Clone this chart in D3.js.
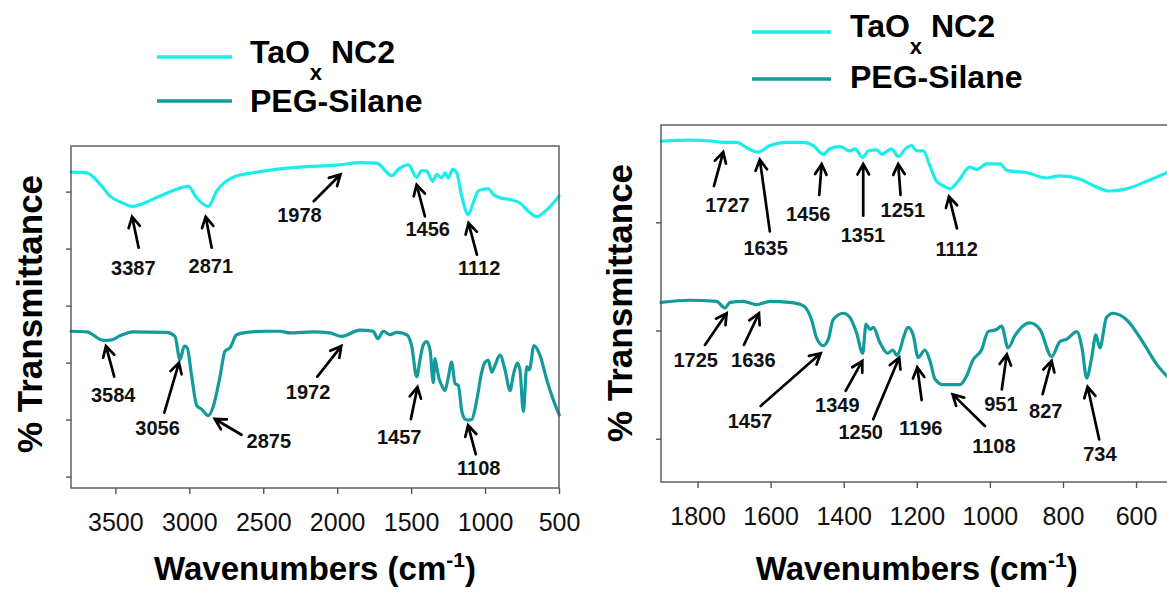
<!DOCTYPE html>
<html>
<head>
<meta charset="utf-8">
<script src="https://cdn.jsdelivr.net/npm/d3@7"></script>
<style>
  body { margin: 0; background: #fff; }
  svg { display: block; font-family: "Liberation Sans", Arial, Helvetica, sans-serif; }
</style>
</head>
<body>
<svg id="chart" width="1167" height="594"></svg>
<script>
// ---- FTIR spectra: [wavenumber (cm^-1), transmittance (a.u., offset)] ----

// Full range 3800-500 cm^-1
const nc2Full = [
  [3800,5.34],[3694,5.33],[3600,5.12],[3536,4.92],[3450,4.80],[3390,4.74],[3200,4.92],[3007,5.09],
  [2950,4.89],[2872,4.74],[2815,5.01],[2705,5.25],[2569,5.33],[2387,5.40],[2251,5.43],
  [1981,5.47],[1846,5.51],[1733,5.50],[1631,5.28],[1587,5.39],[1519,5.47],[1462,5.25],
  [1429,5.37],[1395,5.36],[1354,5.18],[1327,5.30],[1293,5.24],[1271,5.33],[1249,5.24],
  [1219,5.39],[1192,5.33],[1158,4.92],[1113,4.60],[1080,4.80],[1046,5.01],[1012,5.04],
  [978,5.05],[944,4.95],[899,4.89],[831,4.86],[764,4.80],[696,4.63],[651,4.56],[583,4.68],[500,4.92]
];
const pegFull = [
  [3800,2.55],[3694,2.54],[3582,2.39],[3525,2.40],[3469,2.47],[3379,2.54],[3153,2.53],[3097,2.46],
  [3063,2.05],[3034,2.29],[3014,2.26],[2984,1.76],[2950,1.25],[2916,1.18],[2872,1.07],
  [2838,1.23],[2792,1.76],[2759,2.20],[2725,2.26],[2680,2.49],[2612,2.53],[2477,2.55],
  [2387,2.55],[2319,2.52],[2162,2.54],[2049,2.52],[1970,2.46],[1846,2.57],[1756,2.55],
  [1726,2.42],[1688,2.55],[1643,2.49],[1598,2.53],[1530,2.49],[1496,2.29],[1462,1.75],
  [1440,2.05],[1418,2.31],[1395,2.37],[1372,2.22],[1350,1.65],[1339,2.07],[1327,1.92],
  [1310,1.71],[1293,1.60],[1271,1.51],[1249,1.74],[1226,2.01],[1203,1.63],[1181,1.60],
  [1158,1.16],[1136,1.01],[1113,0.99],[1090,1.00],[1057,1.33],[1023,1.83],[1000,2.01],
  [978,2.04],[955,1.83],[933,1.95],[899,2.13],[865,1.87],[831,1.51],[809,1.78],[782,1.99],
  [764,1.87],[741,1.14],[718,1.93],[701,1.87],[669,2.30],[629,2.13],[583,1.70],[539,1.35],[498,1.08]
];

// Fingerprint range 1900-500 cm^-1
const nc2Finger = [
  [1900,2.75],[1821,2.76],[1757,2.75],[1730,2.74],[1693,2.74],[1666,2.69],[1634,2.65],[1602,2.71],
  [1556,2.74],[1511,2.74],[1483,2.71],[1456,2.63],[1438,2.68],[1410,2.70],[1383,2.66],[1369,2.68],
  [1348,2.60],[1333,2.66],[1310,2.67],[1296,2.63],[1269,2.68],[1251,2.61],[1228,2.69],[1214,2.71],
  [1200,2.66],[1182,2.66],[1164,2.52],[1146,2.38],[1128,2.34],[1109,2.31],[1087,2.38],[1055,2.51],
  [1036,2.49],[1009,2.54],[972,2.54],[954,2.48],[899,2.46],[845,2.41],[808,2.43],[754,2.40],
  [717,2.34],[672,2.29],[626,2.31],[571,2.38],[516,2.46]
];
const pegFinger = [
  [1900,1.26],[1821,1.28],[1748,1.27],[1725,1.21],[1711,1.26],[1675,1.27],[1638,1.24],[1602,1.27],
  [1548,1.26],[1511,1.23],[1488,1.10],[1474,0.93],[1456,0.86],[1442,0.92],[1429,1.10],[1401,1.16],
  [1383,1.12],[1365,0.98],[1348,0.79],[1339,1.06],[1328,1.01],[1319,1.03],[1301,0.89],[1280,0.79],
  [1265,0.82],[1255,0.77],[1246,0.82],[1237,0.93],[1223,1.03],[1210,0.96],[1196,0.75],[1178,0.82],
  [1164,0.72],[1150,0.55],[1128,0.50],[1082,0.50],[1064,0.58],[1046,0.73],[1023,0.82],[1005,0.99],
  [982,1.01],[968,1.04],[950,0.84],[932,0.95],[891,1.07],[863,1.01],[831,0.76],[808,0.90],
  [790,0.92],[762,0.99],[748,0.84],[735,0.56],[721,0.76],[710,0.96],[699,0.84],[681,1.12],
  [663,1.16],[626,1.10],[581,0.89],[544,0.69],[516,0.58]
];

// Tick values
const fullTicks = [3500, 3000, 2500, 2000, 1500, 1000, 500];
const fingerTicks = [1800, 1600, 1400, 1200, 1000, 800, 600];
const fullYTicks = [0, 1, 2, 3, 4, 5];
const fingerYTicks = [0, 1, 2];

// Assigned bands: label, transmittance level at the arrow tip
const fullBands = [
  ["3387", 4.56], ["2871", 4.56], ["1978", 5.30], ["1456", 5.12], ["1112", 4.45],
  ["3584", 2.29], ["3056", 2.00], ["2875", 1.01], ["1972", 2.29], ["1457", 1.57], ["1108", 0.90]
];
const fingerBands = [
  ["1727", 2.65], ["1635", 2.58], ["1456", 2.54], ["1351", 2.54], ["1251", 2.54], ["1112", 2.24],
  ["1725", 1.16], ["1636", 1.16], ["1457", 0.79], ["1349", 0.72], ["1250", 0.75], ["1196", 0.66],
  ["1108", 0.41], ["951", 0.78], ["827", 0.72], ["734", 0.48]
];

const legendNames = ["TaO", "x", " NC2", "PEG-Silane"];

// ---- layout ----
const colors = { nc2: "#1BEDED", peg: "#149A9A" };

// arrow geometry per band: [tip dx, tail dx, tail dy, label dx, label dy] (px, relative to tip)
const fullArrows = [
  [0, 6.6, 31, 1.3, 58.4], [-2.7, 6, 31, 5.1, 56], [0, -26.7, 26.7, -41, 47], [-1, 8.3, 31.7, 11.1, 51],
  [0, 8.4, 31.7, 10.7, 52.4],
  [3, 8.3, 30.6, 7.3, 56], [-2, -14.7, 50, -21.5, 72.7], [7, 26.7, 15.7, 54, 29],
  [0, -24, 30.6, -33.2, 53.3], [0, -6.6, 32, -18.3, 56.7], [-1, 7.7, 29, 10.7, 50]
];
const fingerArrows = [
  [-1, -9.3, 34, 4.2, 60], [2, 10, 71.7, 5.8, 95], [-1.6, -2.4, 31, -13.4, 56.7], [1.6, 0, 51.7, -0.3, 78.3],
  [0, 2.4, 31, 4.7, 53.3], [0, 8, 32, 7.7, 59.4],
  [1.7, -21.7, 31.7, -30.9, 54], [1.5, -15, 31.7, -5.7, 54], [-2.2, -60, 52.7, -70.7, 74.3],
  [0, -16.7, 30, -25, 51.6], [0.7, -26, 61.7, -38.5, 81.7], [-1, 4.4, 32.7, 3.5, 67.7],
  [2.2, 32.3, 31.7, 41.3, 58.3], [-1, -5, 35, -5.9, 56.7], [-1.5, -9, 33.3, -5.9, 57.6], [0.5, 11.6, 52.7, 12.3, 74.4]
];

const panels = [
  {
    x: d3.scaleLinear().domain([3800, 500]).range([71, 559]),
    y: d3.scaleLinear().domain([-0.2, 5.8]).range([488, 146]),
    series: [[nc2Full, colors.nc2], [pegFull, colors.peg]],
    xTicks: fullTicks, yTicks: fullYTicks,
    bands: fullBands, arrows: fullArrows,
    yTitle: [42, 314],
    legend: { x1: 157, x2: 232, y1: 57, y2: 101, tx: 250, b1: 63, b2: 112 }
  },
  {
    x: d3.scaleLinear().domain([1900, 500]).range([661, 1172.6]),
    y: d3.scaleLinear().domain([-0.4, 2.9]).range([482, 125]),
    series: [[nc2Finger, colors.nc2], [pegFinger, colors.peg]],
    xTicks: fingerTicks, yTicks: fingerYTicks,
    bands: fingerBands, arrows: fingerArrows,
    yTitle: [632, 303],
    legend: { x1: 752, x2: 831, y1: 32, y2: 79, tx: 850, b1: 37, b2: 88 }
  }
];

const svg = d3.select("#chart");

panels.forEach(p => {
  const [x0, x1] = p.x.range();
  const [yb, yt] = p.y.range();
  const g = svg.append("g");

  // spectra
  const line = d3.line()
    .x(d => p.x(d[0]))
    .y(d => p.y(d[1]))
    .curve(d3.curveMonotoneX);
  p.series.forEach(([data, color]) => {
    g.append("path")
      .datum(data)
      .attr("d", line)
      .attr("fill", "none")
      .attr("stroke", color)
      .attr("stroke-width", 3.2)
      .attr("stroke-linejoin", "round")
      .attr("stroke-linecap", "round");
  });

  // frame
  g.append("rect")
    .attr("x", x0).attr("y", yt)
    .attr("width", x1 - x0).attr("height", yb - yt)
    .attr("fill", "none")
    .attr("stroke", "#555")
    .attr("stroke-width", 1.4);

  // axes
  const xa = g.append("g")
    .attr("transform", `translate(0,${yb})`)
    .call(d3.axisBottom(p.x).tickValues(p.xTicks).tickFormat(d3.format("d")).tickSize(6).tickSizeOuter(0));
  xa.select(".domain").remove();
  xa.selectAll(".tick line").attr("stroke", "#555").attr("stroke-width", 1.4);
  xa.selectAll(".tick text")
    .attr("y", 43).attr("dy", null)
    .attr("fill", "#111")
    .style("font-size", "25px")
    .style("font-family", "'Liberation Sans', Arial, sans-serif");

  const ya = g.append("g")
    .attr("transform", `translate(${x0},0)`)
    .call(d3.axisLeft(p.y).tickValues(p.yTicks).tickFormat(() => "").tickSize(5).tickSizeOuter(0));
  ya.select(".domain").remove();
  ya.selectAll(".tick line").attr("stroke", "#555").attr("stroke-width", 1.4);

  // band annotations
  p.bands.forEach(([label, t], i) => {
    const [tdx, ax, ay, lx, ly] = p.arrows[i];
    const tx = p.x(+label) + tdx, ty = p.y(t);
    const sx = tx + ax, sy = ty + ay;
    const ang = Math.atan2(ty - sy, tx - sx);
    const hl = 12, ha = 0.5;
    const h1 = [tx - hl * Math.cos(ang - ha), ty - hl * Math.sin(ang - ha)];
    const h2 = [tx - hl * Math.cos(ang + ha), ty - hl * Math.sin(ang + ha)];
    g.append("path")
      .attr("d", `M${sx},${sy}L${tx},${ty}M${h1[0]},${h1[1]}L${tx},${ty}L${h2[0]},${h2[1]}`)
      .attr("fill", "none")
      .attr("stroke", "#000")
      .attr("stroke-width", 2.7)
      .attr("stroke-linecap", "round")
      .attr("stroke-linejoin", "miter");
    g.append("text")
      .attr("x", tx + lx).attr("y", ty + ly)
      .attr("text-anchor", "middle")
      .attr("font-size", 20)
      .attr("font-weight", "bold")
      .attr("fill", "#111")
      .text(label);
  });

  // axis titles
  const xt = g.append("text")
    .attr("x", (x0 + x1) / 2).attr("y", 580)
    .attr("text-anchor", "middle")
    .attr("font-size", 33).attr("font-weight", "bold").attr("fill", "#000");
  xt.append("tspan").text("Wavenumbers (cm");
  xt.append("tspan").attr("dy", -13).attr("font-size", 21).text("-1");
  xt.append("tspan").attr("dy", 13).text(")");

  g.append("text")
    .attr("transform", `translate(${p.yTitle[0]},${p.yTitle[1]}) rotate(-90)`)
    .attr("text-anchor", "middle")
    .attr("font-size", 35).attr("font-weight", "bold").attr("fill", "#000")
    .text("% Transmittance");

  // legend
  const L = p.legend;
  [[L.y1, colors.nc2], [L.y2, colors.peg]].forEach(([yy, c]) => {
    g.append("line")
      .attr("x1", L.x1).attr("x2", L.x2).attr("y1", yy).attr("y2", yy)
      .attr("stroke", c).attr("stroke-width", 3.6);
  });
  const t1 = g.append("text")
    .attr("x", L.tx).attr("y", L.b1)
    .attr("font-size", 32).attr("font-weight", "bold").attr("fill", "#000");
  t1.append("tspan").text(legendNames[0]);
  t1.append("tspan").attr("dy", 17).attr("font-size", 22).text(legendNames[1]);
  t1.append("tspan").attr("dy", -17).text(legendNames[2]);
  g.append("text")
    .attr("x", L.tx).attr("y", L.b2)
    .attr("font-size", 32).attr("font-weight", "bold").attr("fill", "#000")
    .text(legendNames[3]);
});
</script>
</body>
</html>
